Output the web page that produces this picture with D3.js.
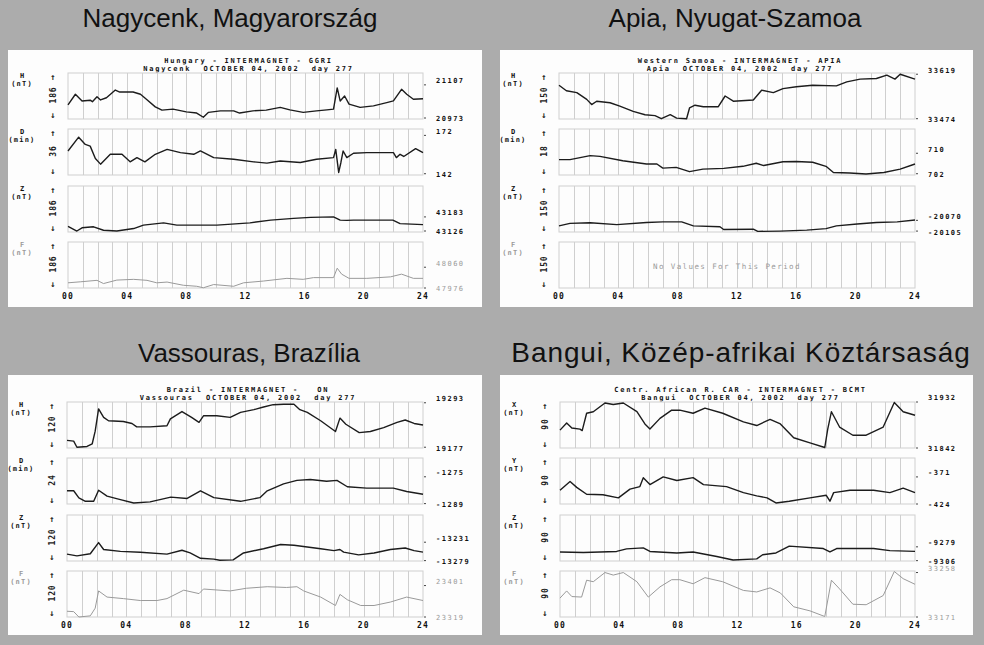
<!DOCTYPE html>
<html><head><meta charset="utf-8">
<script src="https://cdn.jsdelivr.net/npm/d3@7"></script>
<style>
body{margin:0;background:#acacac;}
svg{display:block;}
text{white-space:pre;}
</style></head><body>
<svg id="chart" width="984" height="645"></svg>
<script>
// ---------- DATA ----------
const stationTitles = ["Nagycenk, Magyarország", "Apia, Nyugat-Szamoa", "Vassouras, Brazília", "Bangui, Közép-afrikai Köztársaság"];
const headerLine1 = ["Hungary - INTERMAGNET - GGRI", "Western Samoa - INTERMAGNET - APIA", "Brazil - INTERMAGNET -   ON", "Centr. African R. CAR - INTERMAGNET - BCMT"];
const headerLine2 = ["Nagycenk  OCTOBER 04, 2002  day 277", "Apia  OCTOBER 04, 2002  day 277", "Vassouras  OCTOBER 04, 2002  day 277", "Bangui  OCTOBER 04, 2002  day 277"];
const componentNames = [["H","D","Z","F"],["H","D","Z","F"],["H","D","Z","F"],["X","Y","Z","F"]];
const componentUnits = [["(nT)","(min)","(nT)","(nT)"],["(nT)","(min)","(nT)","(nT)"],["(nT)","(min)","(nT)","(nT)"],["(nT)","(nT)","(nT)","(nT)"]];
const rangeSpans = [[186,36,186,186],[150,18,150,150],[120,24,120,120],[90,90,90,90]];
const rightTickValues = [
  [[21107,20973],[172,142],[43183,43126],[48060,47976]],
  [[33619,33474],[710,702],[-20070,-20105],[]],
  [[19293,19177],[-1275,-1289],[-13231,-13279],[23401,23319]],
  [[31932,31842],[-371,-424],[-9279,-9306],[33258,33171]]
];
const domainMins = [[20969,141,43122,47976],[33473,701.5,-20108,0],[19175,-1289.2,-13280,23319],[31842,-424,-9306.7,33171]];
const hourTicks = [0,4,8,12,16,20,24];
const hourTickLabels = ["00","04","08","12","16","20","24"];
const noDataText = "No Values For This Period";

// Nagycenk (GGRI)
const nagH = [[0,21026],[0.5,21069],[0.95,21042],[1.5,21045],[1.65,21039],[1.96,21059],[2.2,21046],[2.6,21055],[3.2,21086],[3.5,21078],[4.4,21078],[4.9,21069],[5.3,21049],[5.9,21018],[6.35,21005],[7.1,21009],[8.0,20998],[8.7,20993],[9.15,20976],[9.5,20996],[10.3,21002],[11.2,21002],[11.6,20993],[12.5,21002],[13.4,21005],[14.35,21016],[15.0,21006],[15.9,20996],[16.8,21002],[17.5,21006],[17.95,21009],[18.2,21095],[18.4,21042],[18.7,21062],[19.0,21029],[19.75,21016],[20.65,21022],[21.55,21035],[22.0,21042],[22.55,21089],[22.9,21069],[23.35,21049],[24,21051]];
const nagD = [[0,159.8],[0.72,170.6],[1.17,164.9],[1.5,163.6],[1.85,153.9],[2.2,149.5],[2.86,157.2],[3.65,157.2],[4.2,151.3],[4.66,154.6],[5.2,151.3],[5.9,157.2],[6.7,161],[7.6,158.5],[8.5,157.2],[8.95,159.8],[9.85,154.6],[11.2,153.3],[12.55,151.3],[13.45,150.3],[14.35,152],[15.7,150.8],[16.8,153.3],[17.95,154.6],[18.1,161],[18.3,143],[18.45,150.8],[18.6,159.8],[18.85,154.6],[19.3,158],[20.2,158.5],[21.3,158.5],[22.0,158.5],[22.2,154.6],[22.45,157.2],[22.7,155.5],[23.5,161.6],[24,158.5]];
const nagZ = [[0,43145],[0.6,43126],[0.95,43139],[1.73,43143],[2.4,43129],[3.3,43126],[4.44,43136],[5.1,43150],[6.46,43159],[7.36,43150],[10.07,43150],[12.3,43159],[13.7,43170],[15.25,43177],[16.4,43181],[17.95,43183],[18.4,43170],[18.85,43169],[19.3,43170],[21.96,43170],[22.45,43156],[24,43152]];
const nagF = [[0,47997],[0.83,48001],[1.96,48007],[2.4,47994],[3.3,48008],[4.44,48011],[5.34,48007],[6.0,47997],[6.7,48000],[7.8,47987],[8.7,47983],[9.15,47977],[9.85,47990],[11.2,47983],[11.87,47997],[13.2,48004],[14.8,48015],[15.9,48011],[16.6,48018],[17.95,48018],[18.2,48056],[18.5,48032],[19.0,48015],[20.2,48015],[21.8,48021],[22.55,48032],[23.35,48015],[24,48015]];

// Apia (API)
const apiH = [[0,33583],[0.5,33565],[1.2,33559],[1.87,33537],[2.2,33520],[2.54,33531],[3.44,33526],[4.1,33515],[5.0,33498],[5.8,33487],[6.47,33484],[6.9,33474],[7.5,33487],[7.93,33476],[8.6,33474],[8.8,33509],[9.17,33518],[9.73,33513],[10.74,33513],[11.2,33548],[11.75,33531],[13.1,33535],[13.66,33567],[14.45,33559],[15.1,33572],[16.0,33578],[17.1,33583],[18.7,33581],[19.4,33594],[20.3,33603],[21.4,33605],[22.1,33616],[22.65,33603],[23.0,33619],[24,33603]];
const apiD = [[0,707.5],[0.74,707.5],[2.1,709.1],[2.76,708.8],[4.3,707.1],[5.9,705.8],[6.6,705.8],[7.0,704.2],[7.9,704.5],[8.8,702.8],[9.7,703.8],[11.1,704.1],[12.4,704.9],[13.3,706.1],[13.8,705.2],[15.1,706.7],[16.0,706.8],[17.1,706.5],[18.0,704.9],[18.5,702.5],[19.6,702.3],[20.7,701.9],[21.9,702.5],[23.0,703.8],[24,705.8]];
const apiZ = [[0,-20088],[0.74,-20080],[2.1,-20078],[3.9,-20084],[5.9,-20077],[7.0,-20075],[8.27,-20075],[9.06,-20088],[10.85,-20091],[11.1,-20100],[13.1,-20099],[13.4,-20106],[14.9,-20105],[16.7,-20102],[18.0,-20097],[18.7,-20088],[20.1,-20082],[21.4,-20077],[22.8,-20075],[24,-20069]];
const apiF = [];

// Vassouras (VSS)
const vasH = [[0,19195],[0.45,19193],[0.67,19177],[1.35,19179],[1.7,19186],[1.9,19219],[2.13,19277],[2.47,19255],[2.8,19246],[3.8,19244],[4.38,19239],[4.7,19230],[5.6,19230],[6.74,19233],[6.97,19251],[7.75,19270],[8.4,19255],[8.9,19242],[9.2,19259],[10.1,19259],[11.0,19255],[11.7,19268],[12.6,19275],[13.25,19282],[13.9,19288],[14.6,19289],[15.3,19289],[15.7,19275],[16.2,19268],[17.1,19246],[18.1,19218],[18.4,19253],[18.8,19237],[19.7,19215],[20.45,19218],[21.35,19228],[22.25,19242],[22.8,19248],[23.4,19239],[24,19235]];
const vasD = [[0,-1282.3],[0.45,-1282.3],[0.8,-1286.0],[1.24,-1287.8],[1.8,-1287.8],[2.13,-1282.0],[2.7,-1285.1],[3.6,-1286.9],[4.5,-1288.7],[5.6,-1288.1],[7.0,-1285.6],[8.1,-1286.3],[9.0,-1282.3],[9.9,-1285.9],[11.7,-1287.8],[13.0,-1285.9],[13.5,-1282.3],[14.6,-1278.7],[15.5,-1276.9],[16.4,-1276.4],[17.5,-1277.3],[18.2,-1276.9],[18.9,-1280.2],[20.2,-1280.9],[22.0,-1280.9],[22.9,-1282.7],[24,-1284.1]];
const vasZ = [[0,-13262],[0.67,-13266.5],[1.57,-13261],[2.13,-13232],[2.47,-13250],[3.6,-13255],[4.94,-13257],[6.74,-13262],[7.75,-13252],[8.3,-13259],[9.0,-13273],[9.9,-13275],[10.3,-13278],[11.2,-13277],[11.9,-13259],[13.25,-13248],[14.4,-13237],[15.3,-13239],[17.1,-13248],[18.0,-13253],[18.4,-13250],[18.65,-13257],[19.66,-13264],[20.7,-13259],[21.8,-13250],[22.8,-13246],[23.4,-13253],[24,-13257]];
const vasF = [[0,23334],[0.45,23333],[0.8,23319],[1.57,23322],[1.9,23342],[2.13,23387],[2.7,23371],[3.8,23367],[4.94,23362],[6.07,23362],[6.74,23367],[7.87,23389],[8.9,23380],[9.2,23392],[11.0,23387],[12.1,23394],[13.5,23398],[14.8,23396],[15.5,23398],[15.96,23387],[17.1,23371],[18.1,23349],[18.4,23378],[18.9,23364],[19.8,23349],[20.7,23349],[21.8,23358],[22.9,23371],[24,23362]];

// Bangui (BCMT)
const bcmX = [[0,31877],[0.45,31891],[0.8,31881],[1.35,31879],[1.5,31876],[1.8,31910],[2.25,31913],[3.04,31930],[3.6,31927],[4.28,31930],[5.2,31913],[5.74,31889],[6.08,31879],[6.76,31900],[7.55,31916],[8.1,31916],[9.0,31910],[9.8,31920],[11.0,31910],[12.4,31893],[13.3,31886],[14.2,31898],[14.9,31889],[15.8,31862],[16.9,31852],[17.9,31843],[18.1,31879],[18.35,31913],[18.9,31883],[19.8,31867],[20.7,31867],[21.85,31883],[22.6,31931],[23.2,31913],[24,31906]];
const bcmY = [[0,-397],[0.68,-380],[1.13,-391.5],[1.8,-405],[2.9,-406],[3.95,-412],[4.73,-395],[5.4,-390],[5.63,-372.5],[6.08,-386],[6.98,-371],[7.9,-378],[9.0,-372.5],[9.7,-386],[11.26,-390],[12.4,-401.7],[13.3,-408],[14.0,-412],[14.6,-422],[15.5,-418.6],[16.9,-412],[18.0,-407],[18.25,-418.6],[18.5,-401.7],[19.6,-397],[21.2,-397],[22.3,-401.7],[23.2,-393],[24,-401.7]];
const bcmZ = [[0,-9289],[1.58,-9290],[3.83,-9288],[4.5,-9283],[5.63,-9281],[6.08,-9288],[7.9,-9291],[9.0,-9289],[10.6,-9298],[11.7,-9304.7],[13.3,-9302.6],[13.7,-9294.5],[14.6,-9291],[15.5,-9277.6],[17.8,-9282.3],[18.25,-9289],[18.7,-9282.3],[21.2,-9282.3],[22.3,-9286.4],[24,-9287.8]];
const bcmF = [[0,33208],[0.45,33222],[0.8,33211],[1.46,33210],[1.8,33243],[2.25,33240],[3.04,33258],[3.6,33253],[4.28,33258],[5.2,33240],[5.97,33210],[6.76,33230],[7.55,33244],[8.1,33244],[9.0,33236],[9.8,33248],[11.0,33240],[12.4,33223],[13.3,33220],[14.2,33228],[14.9,33218],[15.8,33191],[16.9,33183],[17.9,33172],[18.35,33243],[18.9,33226],[19.8,33196],[20.7,33195],[21.85,33213],[22.6,33260],[23.2,33246],[24,33235]];

const stationSeries = [[nagH,nagD,nagZ,nagF],[apiH,apiD,apiZ,apiF],[vasH,vasD,vasZ,vasF],[bcmX,bcmY,bcmZ,bcmF]];

// ---------- LAYOUT ----------
const panels = [
  {rx:8,  ry:50,  rw:474, rh:257, top:50,  left:68,  right:423, tx:230, ty:27,  fs:26, ls:0},
  {rx:500,ry:50,  rw:473, rh:257, top:50,  left:559, right:915, tx:735, ty:27,  fs:26, ls:0},
  {rx:8,  ry:375, rw:474, rh:260, top:379, left:67,  right:423, tx:249, ty:362, fs:26, ls:0},
  {rx:500,ry:375, rw:473, rh:260, top:379, left:560, right:915, tx:741, ty:362, fs:28, ls:0.9}
];
const rowOffsets = [23,79,136,192];
const rowH = 46;
const mono = "'DejaVu Sans Mono', monospace";
const dark = "#1c1c1c", grayC = "#9a9a9a", gridC = "#cfcfcf";

const svg = d3.select("#chart");
svg.append("rect").attr("width",984).attr("height",645).attr("fill","#acacac");

panels.forEach((p, i) => {
  svg.append("text").attr("x",p.tx).attr("y",p.ty).attr("text-anchor","middle")
    .attr("font-family","'Liberation Sans', Arial, sans-serif").attr("font-size",p.fs)
    .attr("letter-spacing",p.ls).attr("fill","#111")
    .text(stationTitles[i]);
  svg.append("rect").attr("x",p.rx).attr("y",p.ry).attr("width",p.rw).attr("height",p.rh).attr("fill","#fdfdfd");

  const g = svg.append("g");
  const x = d3.scaleLinear().domain([0,24]).range([p.left,p.right]);
  const cx = (p.left+p.right)/2;
  [headerLine1[i], headerLine2[i]].forEach((t,k) => {
    g.append("text").attr("x",cx+3).attr("y",p.top+13+k*8).attr("text-anchor","middle")
      .attr("font-family",mono).attr("font-weight","bold").attr("font-size",7).attr("letter-spacing",1.8)
      .attr("fill","#111").text(t);
  });

  for (let r=0;r<4;r++){
    const top = p.top + rowOffsets[r];
    const isF = componentNames[i][r]==="F";
    const lineColor = isF ? grayC : dark;
    const lo = domainMins[i][r];
    const y = d3.scaleLinear().domain([lo, lo+rangeSpans[i][r]]).range([top+rowH, top]);
    // box + hour grid
    g.append("rect").attr("x",p.left).attr("y",top).attr("width",p.right-p.left).attr("height",rowH)
      .attr("fill","none").attr("stroke",gridC).attr("stroke-width",1);
    g.append("g").selectAll("line").data(d3.range(1,24)).join("line")
      .attr("x1",d=>Math.round(x(d))+0.5).attr("x2",d=>Math.round(x(d))+0.5)
      .attr("y1",top).attr("y2",top+rowH).attr("stroke",gridC).attr("stroke-width",1);
    // left labels
    const lx = p.left - 46;
    g.append("text").attr("x",lx).attr("y",top+5).attr("text-anchor","middle")
      .attr("font-family",mono).attr("font-weight","bold").attr("font-size",7)
      .attr("fill", isF ? grayC : "#111").text(componentNames[i][r]);
    g.append("text").attr("x",lx).attr("y",top+13).attr("text-anchor","middle")
      .attr("font-family",mono).attr("font-weight","bold").attr("font-size",7).attr("letter-spacing",1.2)
      .attr("fill", isF ? grayC : "#111").text(componentUnits[i][r]);
    const ax = p.left - 15;
    g.append("text").attr("x",ax).attr("y",top+7).attr("text-anchor","middle")
      .attr("font-family",mono).attr("font-weight","bold").attr("font-size",9).attr("fill","#222").text("↑");
    g.append("text").attr("x",ax).attr("y",top+rowH-1).attr("text-anchor","middle")
      .attr("font-family",mono).attr("font-weight","bold").attr("font-size",9).attr("fill","#222").text("↓");
    g.append("text").attr("transform",`translate(${ax+3},${top+rowH/2-1}) rotate(-90)`).attr("text-anchor","middle")
      .attr("font-family",mono).attr("font-weight","bold").attr("font-size",8).attr("letter-spacing",0.9).attr("fill","#222")
      .text(String(rangeSpans[i][r]));
    // right ticks + labels
    rightTickValues[i][r].forEach((v,k) => {
      const ty = y(v);
      g.append("line").attr("x1",p.right+1).attr("x2",p.right+3).attr("y1",ty).attr("y2",ty)
        .attr("stroke","#444").attr("stroke-width",1);
      g.append("text").attr("x",p.right+13).attr("y",ty + (k===0 ? -4 : 1)).attr("dy","0.35em")
        .attr("font-family",mono).attr("font-weight", isF ? "normal" : "bold").attr("font-size",7)
        .attr("letter-spacing",1.5).attr("fill", isF ? grayC : "#111").text(String(v));
    });
    // series
    const data = stationSeries[i][r];
    if (data.length){
      g.append("path").datum(data)
        .attr("d", d3.line().x(d=>x(d[0])).y(d=>y(d[1])))
        .attr("fill","none").attr("stroke",lineColor).attr("stroke-width", isF ? 1 : 1.4)
        .attr("stroke-linejoin","round");
    } else {
      g.append("text").attr("x",cx-10).attr("y",top+rowH/2+4).attr("text-anchor","middle")
        .attr("font-family",mono).attr("font-size",7.5).attr("letter-spacing",1.4)
        .attr("fill",grayC).text(noDataText);
    }
  }
  // hour axis labels
  g.append("g").selectAll("text").data(hourTicks).join("text")
    .attr("x",d=>x(d)).attr("y",p.top+248.5).attr("text-anchor","middle")
    .attr("font-family",mono).attr("font-weight","bold").attr("font-size",8).attr("letter-spacing",1.2).attr("fill","#111")
    .text((d,k)=>hourTickLabels[k]);
});
</script>
</body></html>
